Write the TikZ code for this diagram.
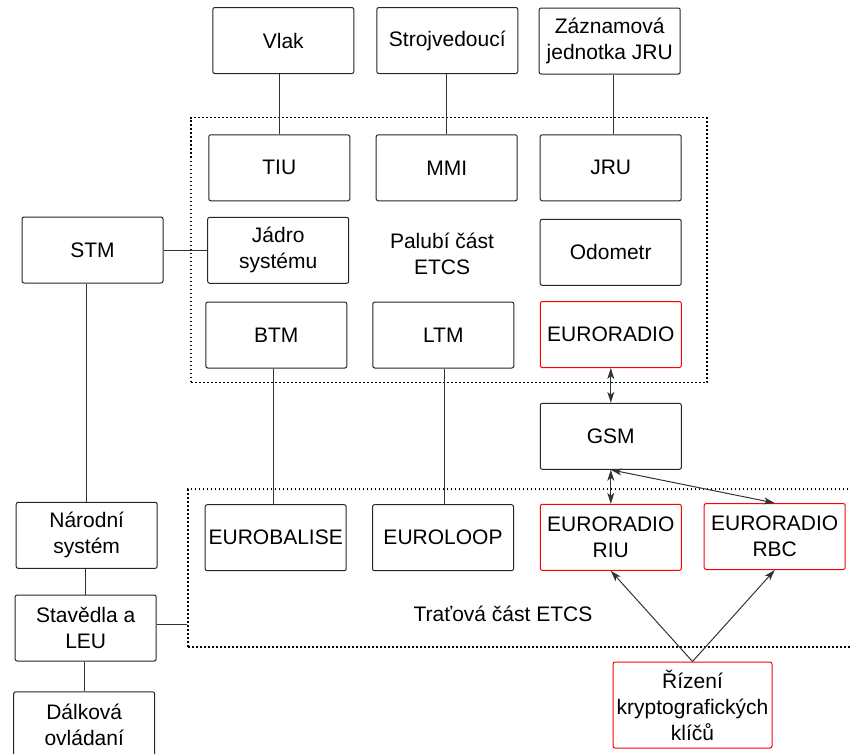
\documentclass[tikz,border=0pt]{standalone}
\usepackage{fontspec}
\setmainfont{Liberation Sans}
\usetikzlibrary{arrows.meta}

\begin{document}
\begin{tikzpicture}[x=1pt,y=-1pt,
  box/.style={draw=black!85, line width=1pt, rounded corners=2pt,
    minimum width=141pt, minimum height=66pt, inner sep=0pt,
    align=center, font=\fontsize{21}{26}\selectfont},
  redbox/.style={box, draw=red},
  area/.style={draw=black, line width=1.7pt, dash pattern=on 1.7pt off 2.3pt,
    inner sep=0pt},
  label/.style={align=center, font=\fontsize{21}{26}\selectfont},
  link/.style={draw=black!80, line width=1pt},
  dbl/.style={link, {Stealth[length=11pt,width=7pt,inset=3pt]}-{Stealth[length=11pt,width=7pt,inset=3pt]}},
  arr/.style={link, -{Stealth[length=11pt,width=7pt,inset=3pt]}}
]
\useasboundingbox (0,0) rectangle (850,753);
\clip (0,0) rectangle (850,753);

% on-board and trackside groupings
\node[area, minimum width=516pt, minimum height=265pt] (onboard) at (448.9,250) {};
\node[area, minimum width=667pt, minimum height=158pt] (track) at (521.7,568.3) {};

% external on-board elements
\node[box] (vlak)  at (283.3,40.5) {Vlak};
\node[box] (stroj) at (447.3,40.5) {Strojvedoucí};
\node[box] (zaz)   at (609.7,41)   {Záznamová\\jednotka JRU};

% on-board ETCS
\node[box] (tiu)   at (279.3,167.8) {TIU};
\node[box] (mmi)   at (446.7,167.8) {MMI};
\node[box] (jru)   at (610.7,167.8) {JRU};
\node[box] (jadro) at (278.2,250.3) {Jádro\\systému};
\node[label] (palubi) at (442,254) {Palubí část\\ETCS};
\node[box] (odo)   at (610.7,252.3) {Odometr};
\node[box] (btm)   at (276.3,335)   {BTM};
\node[box] (ltm)   at (443.3,335)   {LTM};
\node[redbox] (er1) at (610.8,334.5) {EURORADIO};

\node[box] (stm)   at (92.5,250)    {STM};
\node[box] (gsm)   at (610.8,436.3) {GSM};

% trackside ETCS
\node[box] (eb)    at (275.7,537.7) {EUROBALISE};
\node[box] (el)    at (443,537.7)   {EUROLOOP};
\node[redbox] (riu) at (610.8,537.3) {EURORADIO\\RIU};
\node[redbox] (rbc) at (774.7,536.5) {EURORADIO\\RBC};
\node[label] (tratova) at (503,614) {Traťová část ETCS};

% national side
\node[box] (nar)   at (86.7,535.3)  {Národní\\systém};
\node[box] (stav)  at (85.7,628)    {Stavědla a\\LEU};
\node[box] (dal)   at (84.2,724.8)  {Dálková\\ovládaní};

\node[redbox, minimum width=159pt, minimum height=86pt] (krypto) at (692.5,705)
  {Řízení\\kryptografických\\klíčů};

% connections
\draw[link] (tiu.north |- vlak.south) -- (tiu.north);
\draw[link] (mmi.north |- stroj.south) -- (mmi.north);
\draw[link] ([xshift=3pt]jru.north |- zaz.south) -- ([xshift=3pt]jru.north);
\draw[link] (stm.east |- jadro.west) -- (jadro.west);
\draw[link] (nar.north |- stm.south) -- (nar.north);
\draw[link] (stav.north |- nar.south) -- (stav.north);
\draw[link] (dal.north |- stav.south) -- (dal.north);
\draw[link] ([yshift=3.5pt]stav.east) -- ([yshift=3.5pt]stav.east -| track.west);
\draw[link] ([xshift=-3pt]btm.south) -- ([xshift=-3pt]btm.south |- eb.north);
\draw[link] ([xshift=1.5pt]ltm.south) -- ([xshift=1.5pt]ltm.south |- el.north);

\draw[dbl] (er1.south) -- (gsm.north);
\draw[dbl] (gsm.south) -- (riu.north);
\draw[dbl] (gsm.south) -- (rbc.north);
\draw[arr] (krypto.north) -- (riu.south);
\draw[arr] (krypto.north) -- (rbc.south);
\end{tikzpicture}
\end{document}
